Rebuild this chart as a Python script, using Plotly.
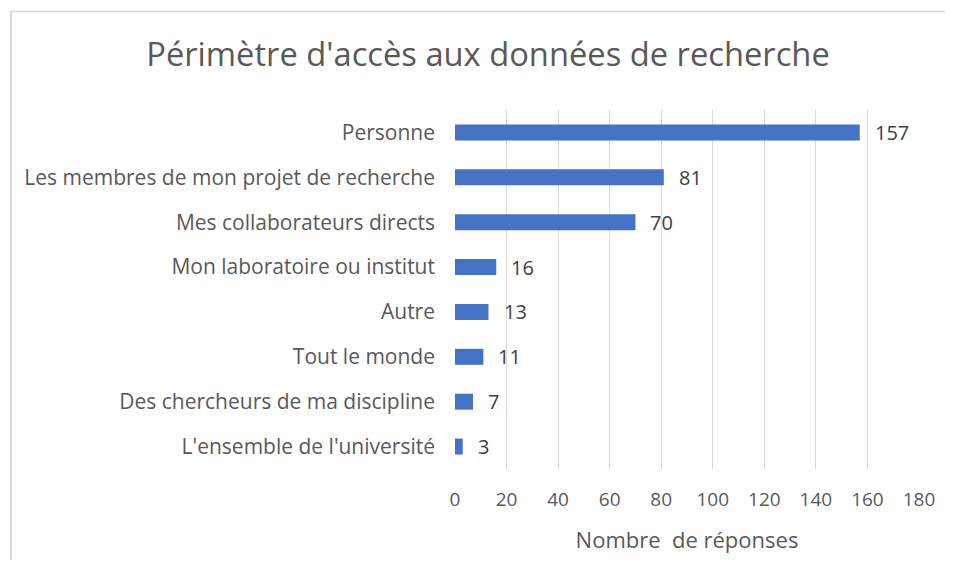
import plotly.graph_objects as go

categories = ["Personne", "Les membres de mon projet de recherche", "Mes collaborateurs directs",
              "Mon laboratoire ou institut", "Autre", "Tout le monde",
              "Des chercheurs de ma discipline", "L'ensemble de l'université"]
values = [157, 81, 70, 16, 13, 11, 7, 3]
x_ticks = [0, 20, 40, 60, 80, 100, 120, 140, 160, 180]

FONT = "Open Sans"
# page body has an 8px margin; figure is sized so the page does not overflow
W, H = 955 - 16, 578 - 26
L, R, T = 447, 26, 102
PH = 359
B = H - T - PH
PW = W - L - R


def px(fx):
    return (fx - L) / PW


def py(fy):
    return (H - B - fy) / PH


fig = go.Figure(go.Bar(
    y=categories, x=values, orientation="h",
    marker=dict(color="#4472C4", line=dict(width=0)),
    width=0.356,
    hoverinfo="x+y",
))

for c, v in zip(categories, values):
    fig.add_annotation(x=v, y=c, xref="x", yref="y", text=str(v),
                       showarrow=False, xanchor="left", yanchor="middle", xshift=13,
                       font=dict(family=FONT, size=20, color="#404040"))

fig.update_layout(
    width=W, height=H,
    margin=dict(l=L, r=R, t=T, b=B),
    paper_bgcolor="white", plot_bgcolor="white",
    title=dict(text="Périmètre d'accès aux données de recherche",
               x=480 / W, xanchor="center", y=1 - 47 / H, yanchor="middle",
               font=dict(family=FONT, size=32.7, color="#595959")),
    xaxis=dict(range=[0, 180], tickvals=x_ticks, ticktext=[str(t) for t in x_ticks],
               showgrid=True, gridcolor="#D9D9D9", gridwidth=1, zeroline=False,
               showline=False, ticks="", ticklabelstandoff=17,
               tickfont=dict(family=FONT, size=19, color="#595959"),
               title=dict(text="Nombre  de réponses", standoff=21,
                          font=dict(family=FONT, size=22, color="#595959"))),
    yaxis=dict(autorange="reversed", showgrid=False, showline=False, ticks="",
               ticklabelstandoff=19,
               tickfont=dict(family=FONT, size=21, color="#595959")),
    showlegend=False,
    shapes=[
        dict(type="line", xref="paper", yref="paper",
             x0=px(0), x1=px(W), y0=py(3.5), y1=py(3.5),
             line=dict(color="#D9D9D9", width=1.5)),
        dict(type="line", xref="paper", yref="paper",
             x0=px(1), x1=px(1), y0=py(3), y1=py(H),
             line=dict(color="#D9D9D9", width=2)),
    ],
)

fig.write_html("out.html")
